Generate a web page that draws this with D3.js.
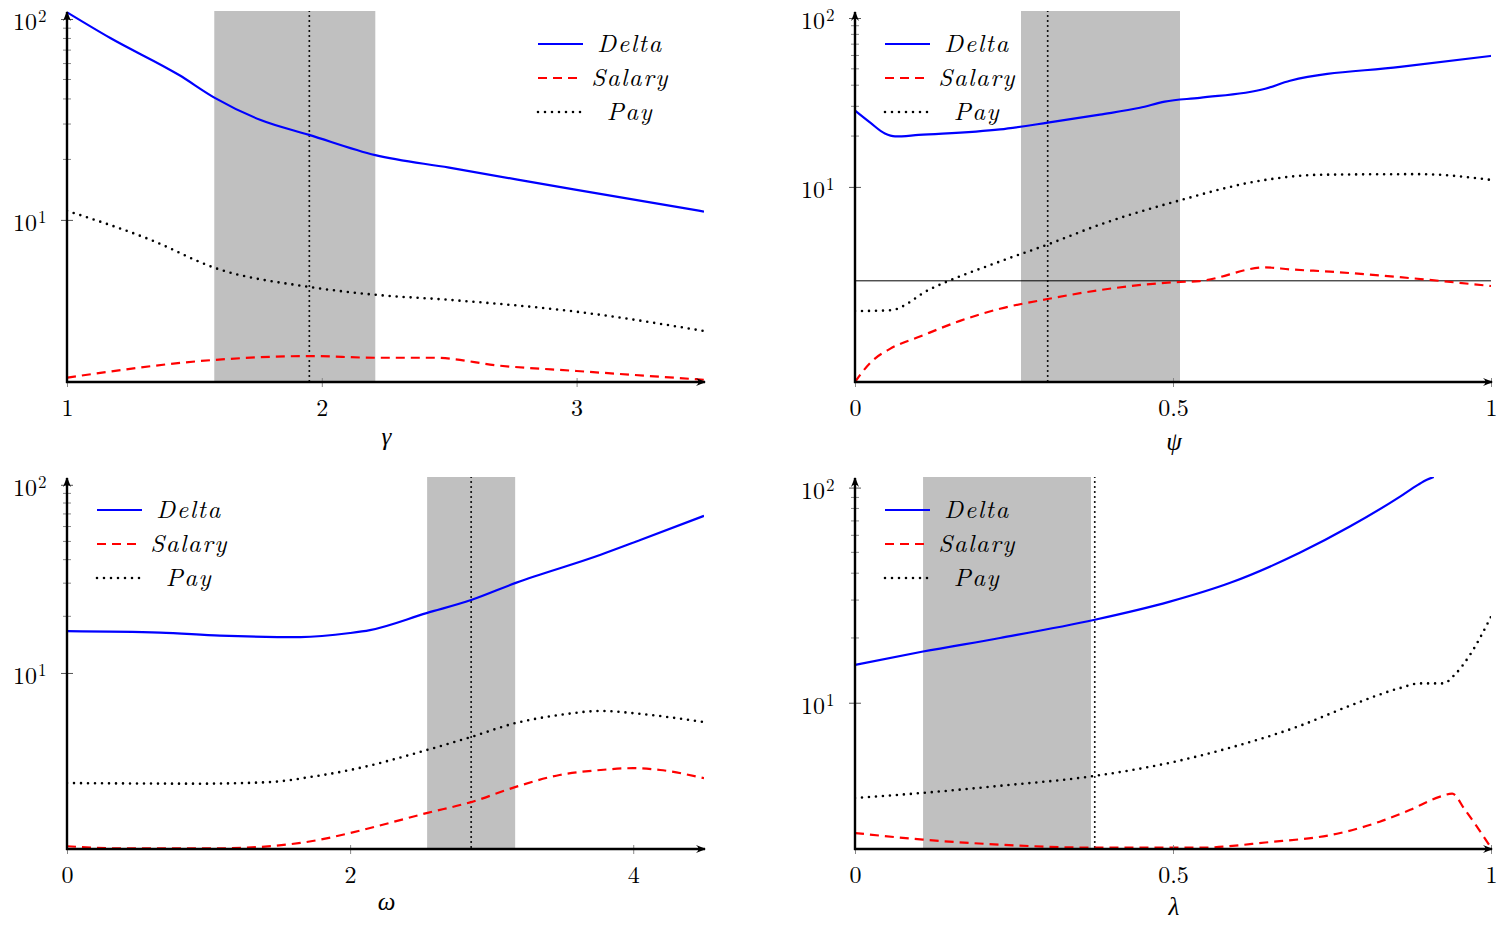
<!DOCTYPE html>
<html>
<head>
<meta charset="utf-8">
<script src="https://cdn.jsdelivr.net/npm/d3@7"></script>
<style>
  body { margin: 0; background: #fff; }
  svg { display: block; }
  text { font-family: "Latin Modern Roman", "Liberation Serif", serif; fill: #000; }
</style>
</head>
<body>
<div class="chart"></div>
<script>
var svgWidth = 1501;
var svgHeight = 930;

// series names shown in every legend
var seriesNames = ["Delta", "Salary", "Pay"];

// panel (a): gamma
var gammaX      = [1.0, 1.17, 1.44, 1.58, 1.76, 1.95, 2.21, 2.5, 3.0, 3.5];
var gammaDelta  = [108, 80.4, 52.6, 40.5, 31.4, 26.5, 21.0, 18.2, 14.1, 11.0];
var gammaPayX   = [1.0, 1.33, 1.58, 1.95, 2.21, 2.5, 3.0, 3.5];
var gammaPay    = [11.1, 7.94, 5.77, 4.64, 4.24, 4.0, 3.49, 2.80];
var gammaSalX   = [1.0, 1.58, 1.95, 2.21, 2.44, 2.7, 3.0, 3.5];
var gammaSalary = [1.64, 2.01, 2.10, 2.06, 2.06, 1.88, 1.77, 1.60];
var gammaBand = [1.578, 2.21];
var gammaMark = 1.951;
var gammaTicks = [1, 2, 3];

// panel (b): psi
var psiX      = [0, 0.024, 0.047, 0.063, 0.1, 0.228, 0.303, 0.385, 0.448, 0.487, 0.542, 0.645, 0.684, 0.857, 1.0];
var psiDelta  = [28.3, 24.0, 20.7, 19.9, 20.3, 21.9, 24.0, 26.8, 29.4, 32.0, 33.7, 38.1, 42.5, 51.4, 59.6];
var psiPayX   = [0, 0.055, 0.118, 0.228, 0.303, 0.385, 0.503, 0.645, 0.731, 0.888, 1.0];
var psiPay    = [1.84, 1.86, 2.48, 3.62, 4.56, 5.98, 8.17, 11.0, 11.8, 11.9, 11.0];
var psiSalX   = [0, 0.024, 0.055, 0.102, 0.165, 0.228, 0.303, 0.385, 0.503, 0.542, 0.645, 0.684, 0.747, 0.857, 1.0];
var psiSalary = [0.70, 0.91, 1.10, 1.30, 1.61, 1.90, 2.17, 2.45, 2.73, 2.77, 3.34, 3.25, 3.15, 2.92, 2.59];
var psiBand = [0.261, 0.511];
var psiMark = 0.303;
var psiLevel = 2.78;
var psiTicks = [0, 0.5, 1];

// panel (c): omega
var omegaX      = [0, 0.657, 1.08, 1.65, 2.0, 2.14, 2.54, 2.855, 3.17, 3.77, 4.05, 4.5];
var omegaDelta  = [16.7, 16.4, 15.8, 15.5, 16.3, 16.9, 20.8, 24.4, 30.1, 42.5, 50.9, 68.4];
var omegaPayX   = [0, 0.94, 1.43, 1.72, 2.0, 2.54, 2.855, 3.17, 3.48, 3.77, 4.05, 4.5];
var omegaPay    = [2.60, 2.58, 2.63, 2.80, 3.05, 3.89, 4.57, 5.42, 5.98, 6.28, 6.06, 5.48];
var omegaSalX   = [0, 0.37, 1.08, 1.65, 2.0, 2.2, 2.54, 2.855, 3.17, 3.48, 3.77, 4.0, 4.19, 4.5];
var omegaSalary = [1.20, 1.17, 1.17, 1.25, 1.41, 1.54, 1.80, 2.06, 2.48, 2.87, 3.05, 3.12, 3.05, 2.76];
var omegaBand = [2.544, 3.166];
var omegaMark = 2.855;
var omegaTicks = [0, 2, 4];

// panel (d): lambda
var lambdaX      = [0, 0.107, 0.228, 0.377, 0.495, 0.59, 0.70, 0.778, 0.857, 0.885, 0.90, 0.91];
var lambdaDelta  = [15.0, 17.3, 20.0, 24.3, 29.5, 36.1, 49.9, 65.9, 90.8, 103, 109, 112];
var lambdaPayX   = [0, 0.107, 0.228, 0.377, 0.495, 0.59, 0.70, 0.778, 0.857, 0.888, 0.925, 0.943, 0.967, 1.0];
var lambdaPay    = [3.61, 3.81, 4.11, 4.57, 5.26, 6.18, 7.82, 9.68, 11.7, 12.3, 12.3, 13.5, 16.7, 25.1];
var lambdaSalX   = [0, 0.107, 0.228, 0.377, 0.542, 0.645, 0.763, 0.825, 0.873, 0.92, 0.939, 0.959, 1.0];
var lambdaSalary = [2.48, 2.31, 2.19, 2.12, 2.12, 2.24, 2.48, 2.80, 3.18, 3.66, 3.78, 3.18, 2.12];
var lambdaBand = [0.107, 0.371];
var lambdaMark = 0.377;
var lambdaTicks = [0, 0.5, 1];

var yMajor = [10, 100];
var yMinor = [20, 30, 40, 50, 60, 70, 80, 90];

var svg = d3.select(".chart")
  .append("svg")
  .attr("width", svgWidth)
  .attr("height", svgHeight);

var defs = svg.append("defs");
defs.append("marker")
  .attr("id", "arrow")
  .attr("viewBox", "0 0 10 10")
  .attr("refX", 9).attr("refY", 5)
  .attr("markerWidth", 10).attr("markerHeight", 10)
  .attr("markerUnits", "userSpaceOnUse")
  .attr("orient", "auto")
  .append("path")
  .attr("d", "M0,1 Q5,5 0,9 L10,5 Z")
  .attr("fill", "#000");

// panel setup: position, domains, data
var panels = [
  { left: 67, right: 704, top: 11, bottom: 382, xDom: [1, 3.5], yDom: [1.56, 109.6],
    label: "γ", labelY: 445, ticks: gammaTicks, legendX: 538,
    delta: [gammaX, gammaDelta], salary: [gammaSalX, gammaSalary], pay: [gammaPayX, gammaPay],
    band: gammaBand, mark: gammaMark },
  { left: 855, right: 1491, top: 11, bottom: 382, xDom: [0, 1], yDom: [0.70, 110],
    label: "ψ", labelY: 450, ticks: psiTicks, legendX: 885,
    delta: [psiX, psiDelta], salary: [psiSalX, psiSalary], pay: [psiPayX, psiPay],
    band: psiBand, mark: psiMark, level: psiLevel },
  { left: 67, right: 704, top: 477, bottom: 849, xDom: [0, 4.5], yDom: [1.16, 110],
    label: "ω", labelY: 910, ticks: omegaTicks, legendX: 97,
    delta: [omegaX, omegaDelta], salary: [omegaSalX, omegaSalary], pay: [omegaPayX, omegaPay],
    band: omegaBand, mark: omegaMark },
  { left: 855, right: 1491, top: 477, bottom: 849, xDom: [0, 1], yDom: [2.09, 112],
    label: "λ", labelY: 915, ticks: lambdaTicks, legendX: 885,
    delta: [lambdaX, lambdaDelta], salary: [lambdaSalX, lambdaSalary], pay: [lambdaPayX, lambdaPay],
    band: lambdaBand, mark: lambdaMark }
];

var styles = {
  Delta:  { color: "#0000ff", dash: null, cap: "butt" },
  Salary: { color: "#ff0000", dash: "9,6", cap: "butt" },
  Pay:    { color: "#000000", dash: "0,7", cap: "round" }
};

panels.forEach(function(p, i) {
  var xScale = d3.scaleLinear().domain(p.xDom).range([p.left, p.right]);
  var yScale = d3.scaleLog().domain(p.yDom).range([p.bottom, p.top]);

  var g = svg.append("g");

  defs.append("clipPath").attr("id", "clip" + i)
    .append("rect")
    .attr("x", p.left).attr("y", p.top)
    .attr("width", p.right - p.left).attr("height", p.bottom - p.top);

  var plot = g.append("g").attr("clip-path", `url(#clip${i})`);

  // shaded interval
  plot.append("rect")
    .attr("x", xScale(p.band[0]))
    .attr("y", p.top)
    .attr("width", xScale(p.band[1]) - xScale(p.band[0]))
    .attr("height", p.bottom - p.top)
    .attr("fill", "#c0c0c0");

  // horizontal reference level (psi panel only)
  if (p.level) {
    plot.append("line")
      .attr("x1", p.left).attr("x2", p.right)
      .attr("y1", yScale(p.level)).attr("y2", yScale(p.level))
      .attr("stroke", "#000").attr("stroke-width", 1);
  }

  // vertical dotted marker
  plot.append("line")
    .attr("x1", xScale(p.mark)).attr("x2", xScale(p.mark))
    .attr("y1", p.top).attr("y2", p.bottom)
    .attr("stroke", "#000").attr("stroke-width", 2)
    .attr("stroke-dasharray", "0,5").attr("stroke-linecap", "round");

  var line = d3.line()
    .x(d => xScale(d[0]))
    .y(d => yScale(d[1]))
    .curve(d3.curveMonotoneX);

  [["Pay", p.pay], ["Salary", p.salary], ["Delta", p.delta]].forEach(function(s) {
    var st = styles[s[0]];
    var pts = s[1][0].map((x, k) => [x, s[1][1][k]]);
    plot.append("path")
      .datum(pts)
      .attr("d", line)
      .attr("fill", "none")
      .attr("stroke", st.color)
      .attr("stroke-width", s[0] === "Pay" ? 2.6 : 2.2)
      .attr("stroke-dasharray", st.dash)
      .attr("stroke-linecap", st.cap);
  });

  // minor y ticks
  g.selectAll(".minor")
    .data(yMinor)
    .enter()
    .append("line")
    .attr("x1", p.left - 4).attr("x2", p.left + 4)
    .attr("y1", d => yScale(d)).attr("y2", d => yScale(d))
    .attr("stroke", "#888").attr("stroke-width", 1);

  // y axis
  var yAxis = g.append("g")
    .attr("transform", `translate(${p.left},0)`)
    .call(d3.axisLeft(yScale).tickValues(yMajor).tickSize(6).tickFormat(d => ""));
  yAxis.select(".domain").remove();
  yAxis.selectAll(".tick line").attr("x1", -6).attr("x2", 6).attr("stroke", "#555");
  yAxis.selectAll(".tick text").remove();
  yAxis.selectAll(".tick").append("text")
    .attr("x", -30).attr("y", 11)
    .attr("text-anchor", "end")
    .attr("font-size", 24)
    .text("10");
  yAxis.selectAll(".tick").append("text")
    .attr("x", -29).attr("y", 3)
    .attr("text-anchor", "start")
    .attr("font-size", 17)
    .text(d => Math.round(Math.log10(d)));

  // x axis
  var xAxis = g.append("g")
    .attr("transform", `translate(0,${p.bottom})`)
    .call(d3.axisBottom(xScale).tickValues(p.ticks).tickSize(5).tickFormat(d3.format("")));
  xAxis.select(".domain").remove();
  xAxis.selectAll(".tick line").attr("y1", -4).attr("y2", 5).attr("stroke", "#888");
  xAxis.selectAll(".tick text")
    .attr("y", 34).attr("dy", null)
    .attr("font-size", 24);

  // axis lines with arrows
  g.append("line")
    .attr("x1", p.left).attr("x2", p.left)
    .attr("y1", p.bottom + 1).attr("y2", p.top + 1)
    .attr("stroke", "#000").attr("stroke-width", 2.4)
    .attr("marker-end", "url(#arrow)");
  g.append("line")
    .attr("x1", p.left - 1).attr("x2", p.right + 1)
    .attr("y1", p.bottom).attr("y2", p.bottom)
    .attr("stroke", "#000").attr("stroke-width", 2.4)
    .attr("marker-end", "url(#arrow)");

  // axis label
  g.append("text")
    .attr("x", (p.left + p.right) / 2 + 1)
    .attr("y", p.labelY)
    .attr("text-anchor", "middle")
    .attr("font-size", 25)
    .attr("font-style", "italic")
    .text(p.label);

  // legend
  var legend = g.append("g")
    .attr("transform", `translate(${p.legendX},${p.top + 33})`);
  seriesNames.forEach(function(name, k) {
    var st = styles[name];
    legend.append("line")
      .attr("x1", 0).attr("x2", 45)
      .attr("y1", k * 34).attr("y2", k * 34)
      .attr("stroke", st.color)
      .attr("stroke-width", name === "Pay" ? 2.6 : 2.2)
      .attr("stroke-dasharray", st.dash)
      .attr("stroke-linecap", st.cap);
    legend.append("text")
      .attr("x", 92).attr("y", k * 34)
      .attr("dy", "0.33em")
      .attr("text-anchor", "middle")
      .attr("font-size", 25)
      .attr("font-style", "italic")
      .attr("letter-spacing", 1.5)
      .text(name);
  });
});
</script>
</body>
</html>
